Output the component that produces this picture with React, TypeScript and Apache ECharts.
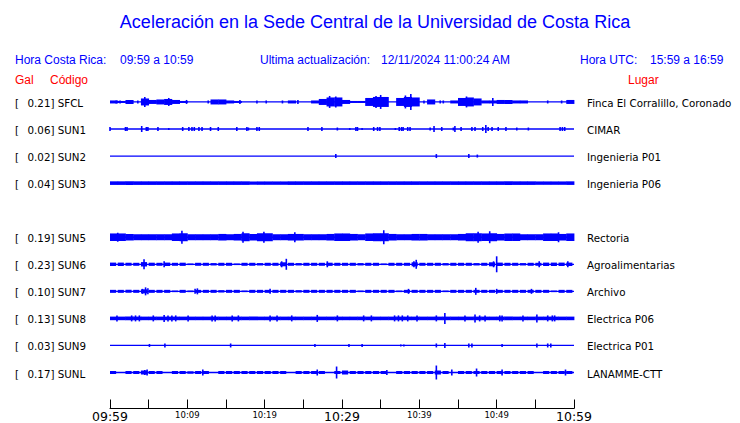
import React, { useEffect, useRef } from "react";
import * as echarts from "echarts";

const TITLE = "Aceleración en la Sede Central de la Universidad de Costa Rica";
const LOCAL_LABEL = "Hora Costa Rica:";
const LOCAL_TIME = "09:59 a 10:59";
const UPDATED_LABEL = "Ultima actualización:";
const UPDATED = "12/11/2024 11:00:24 AM";
const UTC_LABEL = "Hora UTC:";
const UTC_TIME = "15:59 a 16:59";
const HEAD_GAL = "Gal";
const HEAD_CODE = "Código";
const HEAD_PLACE = "Lugar";

const CODES = ["SFCL", "SUN1", "SUN2", "SUN3", "SUN5", "SUN6", "SUN7", "SUN8", "SUN9", "SUNL"];
const ROWS = [0, 1, 2, 3, 5, 6, 7, 8, 9, 10];
const PEAK_GAL = ["0.21", "0.06", "0.02", "0.04", "0.19", "0.23", "0.10", "0.13", "0.03", "0.17"];
const PLACES = [
  "Finca El Corralillo, Coronado",
  "CIMAR",
  "Ingenieria P01",
  "Ingenieria P06",
  "Rectoria",
  "Agroalimentarias",
  "Archivo",
  "Electrica P06",
  "Electrica P01",
  "LANAMME-CTT",
];
const TICK_LABELS = ["09:59", "10:09", "10:19", "10:29", "10:39", "10:49", "10:59"];
const MAJOR_TICKS = [0, 30, 60];

// Envelope (half-amplitude per minute bin, trace units)
const ENV_SFCL = [1.5, 1, 2, 0, 3.5, 2, 2.5, 3, 2, 1, 0, 0, 0, 2.5, 2.5, 1.5, 1, 0, 0, 0, 0, 0, 0, 1.5, 0, 0, 1.5, 3, 4.5, 4.5, 2, 1, 1, 4, 5, 5, 0, 4, 5, 4.5, 0, 2.5, 0, 0, 1.5, 4, 4.5, 3.5, 1.5, 1.5, 2, 2, 1.5, 1.5, 0, 0, 0, 0, 0, 2];
const ENV_SUN1: number[] = [];
const ENV_SUN2: number[] = [];
const ENV_SUN3 = [1.8, 1.8, 1.8, 1.8, 1.8, 1.8, 1.8, 1.8, 1.8, 1.8, 1.8, 1.8, 1.8, 1.8, 1.8, 1.8, 1.8, 1.8, 1.7, 1.7, 1.7, 1.7, 1.7, 1.8, 1.8, 1.8, 1.8, 1.8, 1.8, 1.8, 1.8, 1.8, 1.8, 1.8, 1.8, 1.8, 1.8, 1.8, 1.8, 1.8, 1.8, 1.8, 1.8, 1.8, 1.8, 1.8, 1.8, 1.8, 1.8, 1.8, 1.8, 1.8, 1.8, 1.8, 1.8, 1.7, 1.7, 1.7, 1.7, 1.8];
const ENV_SUN5 = [3.8, 3.8, 3.3, 3, 3, 3, 3, 3, 3.8, 4, 3, 3, 3, 3, 3.3, 3, 3.3, 4, 3.3, 4, 4, 3, 3, 3.3, 3.3, 3, 3, 3, 3.3, 3.8, 3.8, 3.3, 3, 3.8, 4, 4, 3.3, 3, 3, 3.3, 3.3, 3, 3, 3, 3, 3.3, 4, 4, 3.8, 4, 3.3, 3.8, 3.8, 3, 3, 3, 3.8, 3.8, 3.3, 3.8];
const ENV_SUN6 = [1.7, 1.7, 1.5, 1.5, 2.2, 1.6, 1.5, 1.7, 1.5, 1.6, 0.8, 1.5, 1.5, 1.2, 1.5, 1.5, 0.8, 1.5, 1.5, 1.2, 1.5, 1.5, 2, 1.5, 1.2, 1.5, 1.5, 1.5, 1.6, 1.5, 1.5, 1.5, 1.2, 1.5, 1.5, 0.8, 1.5, 1.5, 1.5, 2, 1.5, 1.5, 1.5, 1.2, 1.5, 1.5, 1.5, 1.2, 1.5, 2, 1.7, 1.5, 1.5, 1.2, 1.5, 1.5, 1.7, 1.7, 1.7, 1.7];
const ENV_SUN7 = [1.5, 1.5, 1.5, 1.5, 2, 1.5, 1.5, 1.5, 0.8, 1.5, 0.8, 1.5, 1.5, 1.5, 1.2, 1.5, 1.5, 0.8, 1.5, 1.5, 1.5, 1.5, 1.5, 1.5, 1.2, 1.5, 1.5, 1.5, 1.5, 1.5, 1.5, 1.5, 0.8, 1.5, 1.5, 1.5, 1.5, 0.8, 1.5, 1.5, 1.5, 1.5, 1.5, 0.8, 1.5, 1.5, 1.5, 1.5, 1.5, 1.5, 1.5, 1.5, 1.5, 1.5, 1.5, 1.5, 1.5, 0.8, 1.5, 1.5];
const ENV_SUN8 = [1.8, 1.8, 1.8, 1.8, 1.8, 1.8, 1.8, 1.8, 1.8, 1.8, 1.8, 1.8, 1.8, 1.8, 1.8, 1.8, 1.8, 1.8, 1.8, 1.8, 1.8, 1.8, 1.8, 1.8, 1.8, 1.8, 1.8, 1.8, 1.8, 1.8, 1.8, 1.8, 1.8, 1.8, 1.8, 1.8, 1.8, 1.8, 1.8, 1.8, 1.8, 1.8, 1.8, 1.8, 1.8, 1.8, 1.8, 1.8, 1.8, 1.8, 1.8, 1.8, 1.8, 1.8, 1.8, 1.8, 1.8, 1.8, 1.8, 1.8];
const ENV_SUN9: number[] = [];
const ENV_SUNL = [1.5, 0.5, 1.5, 1.5, 2, 1.5, 1.5, 0.5, 1.5, 1.5, 1.2, 1.5, 1.5, 0.5, 1.5, 1.5, 1.5, 1.5, 1.5, 1.5, 1.5, 1.5, 1.5, 0.5, 1.5, 1.5, 1.5, 1.5, 0.5, 1.5, 2, 1.5, 1.5, 1.5, 1.5, 1.5, 0.5, 1.5, 1.5, 1.5, 1.5, 1.5, 2, 1.5, 0.5, 1.5, 1.5, 1.5, 1.5, 1.5, 1.5, 1.5, 1.5, 1.5, 1.5, 0.5, 1.5, 1.5, 1.5, 1.5];

// Isolated peaks: [minute, half-amplitude]
const SPK_SFCL = [[0.8, 1.5], [1.3, 1.5], [3.6, 1.5], [4.5, 5], [7.6, 4], [9.9, 2], [12.7, 1.5], [16.8, 2], [19, 1.5], [20.2, 1.5], [22.3, 1.5], [24.3, 2], [28.4, 6], [29.2, 5.5], [34.4, 6], [35, 7], [38.2, 6.5], [38.9, 8], [40.6, 1.5], [42.7, 1.5], [43.1, 1.5], [46.1, 5.5], [49.5, 4], [56.6, 1.5], [58.4, 1.5]];
const SPK_SUN1 = [[0, 2], [2, 2], [2.2, 2], [4.1, 3], [4.7, 2], [4.9, 2], [6.2, 2], [7.6, 1], [9.4, 2], [10.2, 2], [10.6, 2], [10.9, 2], [11.5, 2], [11.9, 2], [13, 2], [14, 2], [16.4, 2], [17.7, 2], [17.9, 1.5], [19, 2], [19.3, 2], [25.6, 2], [27.4, 2], [29.4, 1.5], [31, 1], [31.8, 2], [32, 2], [32.6, 1], [34.1, 2], [34.6, 2], [34.9, 2], [36.9, 1], [37.4, 2], [37.7, 2], [37.9, 2], [38.5, 2], [38.8, 2], [41.4, 1.5], [41.9, 3], [42.9, 2], [44.4, 1.5], [44.6, 3], [45.4, 2], [46.8, 2], [47.2, 2], [48.2, 2], [48.6, 4], [48.9, 2], [49.4, 2], [50.2, 2], [51.2, 2], [52.6, 1.5], [54.1, 1.5], [58.2, 2], [58.5, 2], [58.8, 2]];
const SPK_SUN2 = [[29.2, 2], [42.2, 2], [46.4, 2], [47.5, 1.5]];
const SPK_SUN3: number[][] = [];
const SPK_SUN5 = [[1, 4.5], [9.3, 6.5], [17.2, 5.5], [19.9, 5.5], [23.9, 5], [35.4, 7], [47.6, 5.5], [49.1, 6], [58, 5]];
const SPK_SUN6 = [[4.4, 5], [7, 3], [22.2, 3], [22.8, 5.5], [28.1, 3], [39.3, 3], [39.6, 4.5], [49.6, 3], [50, 8], [55.5, 3], [59.2, 3]];
const SPK_SUN7 = [[4.2, 2.5], [4.6, 4], [4.9, 3], [11, 2.5], [11.3, 3], [20.7, 2.5], [38.6, 2.5], [47.3, 3.5], [50, 2.5], [54.5, 2.5]];
const SPK_SUN8 = [[0.9, 3], [2.8, 3], [3.3, 3], [3.8, 3], [5.6, 3], [7, 3.5], [7.5, 3], [8, 3], [8.5, 3], [10.1, 3], [13.2, 3], [13.6, 3], [15.8, 3], [16.6, 3], [20.7, 3], [21.6, 3], [23.5, 3], [26.8, 3.5], [29.4, 3], [32.8, 3], [33.8, 3], [36.8, 3], [37.3, 3], [37.8, 3], [38.5, 3], [39.7, 3], [42.2, 3], [43.3, 5.5], [45.9, 3], [47.2, 4], [47.8, 3], [48.5, 3], [50.4, 3], [50.7, 3], [53.4, 3], [55.2, 4], [56.6, 3], [57.2, 3], [57.5, 3]];
const SPK_SUN9 = [[5.1, 1.5], [7.1, 2], [15.6, 2], [26.5, 1.5], [30.9, 1.5], [32.6, 1.5], [37.6, 1], [38, 1], [42.2, 2], [43.3, 2.5], [46.4, 2], [46.8, 2], [50.7, 1.5], [55.2, 2], [56.6, 2], [57, 2]];
const SPK_SUNL = [[4.5, 2.5], [4.8, 3], [12, 3], [26.8, 3], [29.3, 6], [35.8, 2.5], [42.2, 7], [44.2, 3], [47.4, 4], [50.7, 3], [58.9, 3]];

const ENVELOPES = [ENV_SFCL, ENV_SUN1, ENV_SUN2, ENV_SUN3, ENV_SUN5, ENV_SUN6, ENV_SUN7, ENV_SUN8, ENV_SUN9, ENV_SUNL];
const SPIKES = [SPK_SFCL, SPK_SUN1, SPK_SUN2, SPK_SUN3, SPK_SUN5, SPK_SUN6, SPK_SUN7, SPK_SUN8, SPK_SUN9, SPK_SUNL];

export default function App() {
  const ref = useRef<HTMLDivElement>(null);
  useEffect(() => {
    if (!ref.current) return;
    const chart = echarts.init(ref.current, null, { renderer: "svg" });
    const BLUE = "#0000ff";
    const RED = "#ff0000";
    const GAIN = 1 / 27.1;
    const DASHED = [false, false, false, false, false, true, true, false, false, true];
    const ARIAL = '"Liberation Sans", Arial, sans-serif';
    const DEJA = '"DejaVu Sans", sans-serif';

    const txt = (text: string, x: number, y: number, size: number, color: string, align = "left") => ({
      type: "text",
      x,
      y,
      style: { text, fill: color, font: `${size}px ${ARIAL}`, align, verticalAlign: "middle" },
    });

    chart.setOption({
      animation: false,
      backgroundColor: "#ffffff",
      grid: { left: 110, right: 166, top: 74.9, bottom: 14 },
      xAxis: {
        type: "value",
        min: 0,
        max: 60,
        interval: 5,
        position: "bottom",
        axisLine: { show: true, onZero: false, lineStyle: { color: "#000", width: 1 } },
        axisTick: { show: true, inside: true, length: 9, lineStyle: { color: "#000", width: 1 } },
        splitLine: { show: false },
        axisLabel: {
          margin: 1,
          showMinLabel: true,
          showMaxLabel: true,
          hideOverlap: false,
          formatter: (v: number) => {
            if (v % 10 !== 0) return "";
            const s = TICK_LABELS[v / 10];
            return MAJOR_TICKS.includes(v) ? `{big|${s}}` : `{small|${s}}`;
          },
          rich: {
            big: { fontFamily: DEJA, fontSize: 12.5, lineHeight: 14, color: "#000" },
            small: { fontFamily: DEJA, fontSize: 8.5, lineHeight: 10, color: "#000" },
          },
        },
      },
      yAxis: [
        {
          type: "value",
          min: -1,
          max: 11.33,
          interval: 1,
          inverse: true,
          axisLine: { show: false },
          axisTick: { show: false },
          splitLine: { show: false },
          axisLabel: {
            align: "left",
            margin: 95,
            showMaxLabel: false,
            formatter: (v: number) => {
              const i = ROWS.indexOf(Math.round(v * 1000) / 1000);
              if (i < 0) return "";
              return `{br|[}{tx|${PEAK_GAL[i]}] ${CODES[i]}}`;
            },
            rich: {
              br: { width: 12.5, fontFamily: DEJA, fontSize: 10.3, color: "#000", padding: [2, 0, 0, 0] },
              tx: { fontFamily: DEJA, fontSize: 10.3, color: "#000", padding: [2, 0, 0, 0] },
            },
          },
        },
        {
          type: "value",
          position: "right",
          min: -1,
          max: 11.33,
          interval: 1,
          inverse: true,
          axisLine: { show: false },
          axisTick: { show: false },
          splitLine: { show: false },
          axisLabel: {
            align: "left",
            margin: 13,
            showMaxLabel: false,
            formatter: (v: number) => {
              const i = ROWS.indexOf(Math.round(v * 1000) / 1000);
              return i < 0 ? "" : `{p|${PLACES[i]}}`;
            },
            rich: {
              p: { fontFamily: DEJA, fontSize: 10.3, color: "#000", padding: [2, 0, 0, 0] },
            },
          },
        },
      ],
      graphic: [
        txt(TITLE, 375, 22, 18, BLUE, "center"),
        txt(LOCAL_LABEL, 15, 60, 12, BLUE),
        txt(LOCAL_TIME, 120, 60, 12, BLUE),
        txt(UPDATED_LABEL, 260, 60, 12, BLUE),
        txt(UPDATED, 381, 60, 12, BLUE),
        txt(UTC_LABEL, 580, 60, 12, BLUE),
        txt(UTC_TIME, 650, 60, 12, BLUE),
        txt(HEAD_GAL, 15, 80, 12, RED),
        txt(HEAD_CODE, 50, 80, 12, RED),
        txt(HEAD_PLACE, 628, 80, 12, RED),
      ],
      series: [
        {
          type: "custom",
          xAxisIndex: 0,
          yAxisIndex: 0,
          clip: false,
          data: ROWS.map((r) => [0, r]),
          encode: { x: 0, y: 1 },
          renderItem: (params: any, api: any) => {
            const i = params.dataIndex;
            const row = ROWS[i];
            const env = ENVELOPES[i];
            const spk = SPIKES[i];
            const children: any[] = [];
            const a = api.coord([0, row]);
            const b = api.coord([60, row]);
            children.push({
              type: "line",
              shape: { x1: a[0], y1: a[1], x2: b[0], y2: b[1] },
              style: { stroke: BLUE, lineWidth: 1.3 },
            });
            const gap = DASHED[i] ? 1.6 : -0.4;
            env.forEach((amp: number, m: number) => {
              if (!amp) return;
              const p0 = api.coord([m, row - amp * GAIN]);
              const p1 = api.coord([m + 1, row + amp * GAIN]);
              children.push({
                type: "rect",
                shape: { x: p0[0], y: p0[1], width: p1[0] - p0[0] - gap, height: p1[1] - p0[1] },
                style: { fill: BLUE },
              });
            });
            spk.forEach((s: number[]) => {
              const p0 = api.coord([s[0], row - s[1] * GAIN]);
              const p1 = api.coord([s[0], row + s[1] * GAIN]);
              children.push({
                type: "line",
                shape: { x1: p0[0], y1: p0[1], x2: p1[0], y2: p1[1] },
                style: { stroke: BLUE, lineWidth: 1.6 },
              });
            });
            return { type: "group", children };
          },
        },
      ],
    });
    return () => chart.dispose();
  }, []);
  return <div ref={ref} style={{ position: "fixed", left: 0, top: 0, width: 740, height: 423 }} />;
}
